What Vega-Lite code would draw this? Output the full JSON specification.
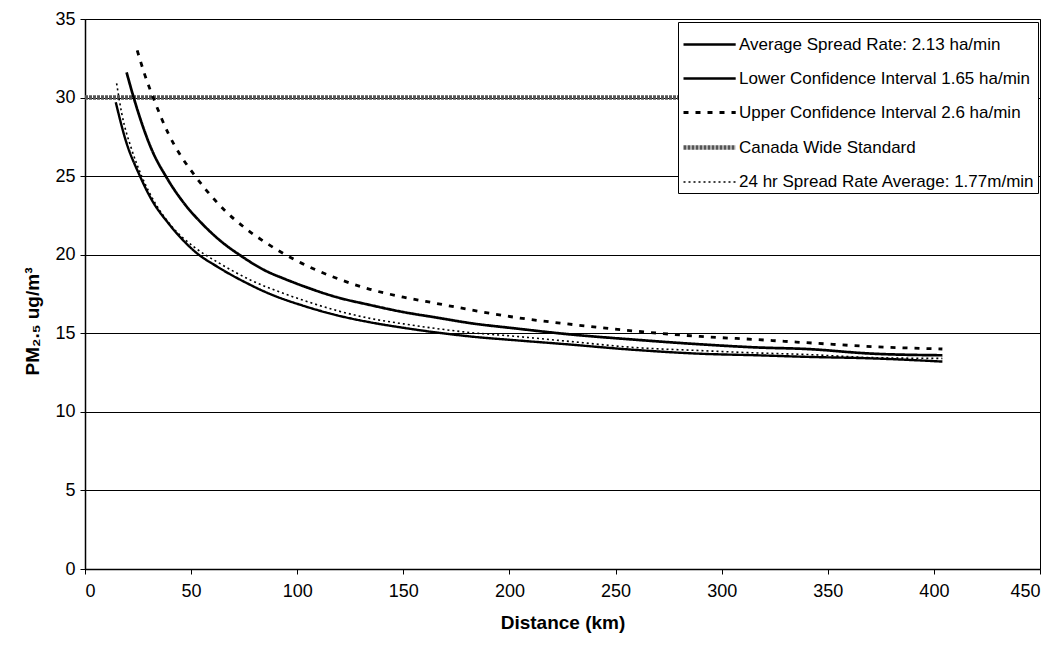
{
  "$schema": "https://vega.github.io/schema/vega-lite/v6.json",
  "width": 955,
  "height": 550,
  "autosize": {"type": "none"},
  "padding": {"left": 85, "top": 19, "right": 22, "bottom": 91},
  "background": "white",
  "config": {
    "font": "Liberation Sans",
    "view": {"stroke": "black", "strokeWidth": 1},
    "axis": {
      "domainColor": "black",
      "domainWidth": 1.5,
      "tickColor": "black",
      "tickSize": 5,
      "labelColor": "black",
      "labelFont": "Liberation Sans",
      "labelFontSize": 18,
      "titleColor": "black",
      "titleFont": "Liberation Sans",
      "titleFontSize": 19,
      "titleFontWeight": "bold"
    },
    "legend": {
      "orient": "none",
      "legendX": 593,
      "legendY": 3,
      "strokeColor": "black",
      "fillColor": "white",
      "padding": 3,
      "symbolType": "M-1,0H1.9",
      "symbolSize": 1296,
      "labelFont": "Liberation Sans",
      "labelFontSize": 17,
      "labelColor": "black",
      "labelOffset": 17,
      "rowPadding": 6,
      "labelLimit": 400
    }
  },
  "data": {
    "values": [
      {"series": "Canada Wide Standard", "x": 0, "y": 30},
      {"series": "Canada Wide Standard", "x": 404, "y": 30},

      {"series": "Average Spread Rate: 2.13 ha/min", "x": 19.6, "y": 31.6},
      {"series": "Average Spread Rate: 2.13 ha/min", "x": 23.6, "y": 29.7},
      {"series": "Average Spread Rate: 2.13 ha/min", "x": 31.4, "y": 26.7},
      {"series": "Average Spread Rate: 2.13 ha/min", "x": 38.5, "y": 24.9},
      {"series": "Average Spread Rate: 2.13 ha/min", "x": 47.1, "y": 23.2},
      {"series": "Average Spread Rate: 2.13 ha/min", "x": 55.0, "y": 22.0},
      {"series": "Average Spread Rate: 2.13 ha/min", "x": 62.8, "y": 21.0},
      {"series": "Average Spread Rate: 2.13 ha/min", "x": 73.8, "y": 19.9},
      {"series": "Average Spread Rate: 2.13 ha/min", "x": 84.8, "y": 19.0},
      {"series": "Average Spread Rate: 2.13 ha/min", "x": 94.3, "y": 18.45},
      {"series": "Average Spread Rate: 2.13 ha/min", "x": 102.9, "y": 18.0},
      {"series": "Average Spread Rate: 2.13 ha/min", "x": 118.6, "y": 17.3},
      {"series": "Average Spread Rate: 2.13 ha/min", "x": 134.3, "y": 16.8},
      {"series": "Average Spread Rate: 2.13 ha/min", "x": 150.0, "y": 16.35},
      {"series": "Average Spread Rate: 2.13 ha/min", "x": 165.7, "y": 16.0},
      {"series": "Average Spread Rate: 2.13 ha/min", "x": 181.4, "y": 15.65},
      {"series": "Average Spread Rate: 2.13 ha/min", "x": 203.4, "y": 15.3},
      {"series": "Average Spread Rate: 2.13 ha/min", "x": 227.0, "y": 14.95},
      {"series": "Average Spread Rate: 2.13 ha/min", "x": 258.4, "y": 14.6},
      {"series": "Average Spread Rate: 2.13 ha/min", "x": 289.8, "y": 14.3},
      {"series": "Average Spread Rate: 2.13 ha/min", "x": 316.5, "y": 14.1},
      {"series": "Average Spread Rate: 2.13 ha/min", "x": 340.1, "y": 14.0},
      {"series": "Average Spread Rate: 2.13 ha/min", "x": 371.5, "y": 13.7},
      {"series": "Average Spread Rate: 2.13 ha/min", "x": 404.0, "y": 13.6},

      {"series": "Lower Confidence Interval 1.65 ha/min", "x": 14.5, "y": 29.7},
      {"series": "Lower Confidence Interval 1.65 ha/min", "x": 18.9, "y": 27.4},
      {"series": "Lower Confidence Interval 1.65 ha/min", "x": 25.9, "y": 25.0},
      {"series": "Lower Confidence Interval 1.65 ha/min", "x": 31.4, "y": 23.5},
      {"series": "Lower Confidence Interval 1.65 ha/min", "x": 39.3, "y": 22.0},
      {"series": "Lower Confidence Interval 1.65 ha/min", "x": 47.1, "y": 20.8},
      {"series": "Lower Confidence Interval 1.65 ha/min", "x": 51.8, "y": 20.2},
      {"series": "Lower Confidence Interval 1.65 ha/min", "x": 62.8, "y": 19.2},
      {"series": "Lower Confidence Interval 1.65 ha/min", "x": 75.4, "y": 18.25},
      {"series": "Lower Confidence Interval 1.65 ha/min", "x": 87.2, "y": 17.5},
      {"series": "Lower Confidence Interval 1.65 ha/min", "x": 102.9, "y": 16.75},
      {"series": "Lower Confidence Interval 1.65 ha/min", "x": 118.6, "y": 16.15},
      {"series": "Lower Confidence Interval 1.65 ha/min", "x": 134.3, "y": 15.7},
      {"series": "Lower Confidence Interval 1.65 ha/min", "x": 150.0, "y": 15.35},
      {"series": "Lower Confidence Interval 1.65 ha/min", "x": 165.7, "y": 15.05},
      {"series": "Lower Confidence Interval 1.65 ha/min", "x": 181.4, "y": 14.8},
      {"series": "Lower Confidence Interval 1.65 ha/min", "x": 203.4, "y": 14.55},
      {"series": "Lower Confidence Interval 1.65 ha/min", "x": 227.0, "y": 14.3},
      {"series": "Lower Confidence Interval 1.65 ha/min", "x": 258.4, "y": 13.95},
      {"series": "Lower Confidence Interval 1.65 ha/min", "x": 289.8, "y": 13.7},
      {"series": "Lower Confidence Interval 1.65 ha/min", "x": 316.5, "y": 13.6},
      {"series": "Lower Confidence Interval 1.65 ha/min", "x": 340.1, "y": 13.5},
      {"series": "Lower Confidence Interval 1.65 ha/min", "x": 371.5, "y": 13.4},
      {"series": "Lower Confidence Interval 1.65 ha/min", "x": 404.0, "y": 13.2},

      {"series": "Upper Confidence Interval 2.6 ha/min", "x": 24.6, "y": 33.0},
      {"series": "Upper Confidence Interval 2.6 ha/min", "x": 28.3, "y": 31.4},
      {"series": "Upper Confidence Interval 2.6 ha/min", "x": 33.0, "y": 29.7},
      {"series": "Upper Confidence Interval 2.6 ha/min", "x": 39.3, "y": 27.7},
      {"series": "Upper Confidence Interval 2.6 ha/min", "x": 45.6, "y": 26.2},
      {"series": "Upper Confidence Interval 2.6 ha/min", "x": 50.3, "y": 25.3},
      {"series": "Upper Confidence Interval 2.6 ha/min", "x": 56.6, "y": 24.2},
      {"series": "Upper Confidence Interval 2.6 ha/min", "x": 66.0, "y": 22.8},
      {"series": "Upper Confidence Interval 2.6 ha/min", "x": 75.4, "y": 21.7},
      {"series": "Upper Confidence Interval 2.6 ha/min", "x": 84.8, "y": 20.8},
      {"series": "Upper Confidence Interval 2.6 ha/min", "x": 100.0, "y": 19.6},
      {"series": "Upper Confidence Interval 2.6 ha/min", "x": 118.6, "y": 18.5},
      {"series": "Upper Confidence Interval 2.6 ha/min", "x": 134.3, "y": 17.8},
      {"series": "Upper Confidence Interval 2.6 ha/min", "x": 150.0, "y": 17.3},
      {"series": "Upper Confidence Interval 2.6 ha/min", "x": 165.7, "y": 16.9},
      {"series": "Upper Confidence Interval 2.6 ha/min", "x": 181.4, "y": 16.5},
      {"series": "Upper Confidence Interval 2.6 ha/min", "x": 203.4, "y": 16.0},
      {"series": "Upper Confidence Interval 2.6 ha/min", "x": 227.0, "y": 15.6},
      {"series": "Upper Confidence Interval 2.6 ha/min", "x": 258.4, "y": 15.15},
      {"series": "Upper Confidence Interval 2.6 ha/min", "x": 289.8, "y": 14.8},
      {"series": "Upper Confidence Interval 2.6 ha/min", "x": 316.5, "y": 14.6},
      {"series": "Upper Confidence Interval 2.6 ha/min", "x": 340.1, "y": 14.4},
      {"series": "Upper Confidence Interval 2.6 ha/min", "x": 371.5, "y": 14.15},
      {"series": "Upper Confidence Interval 2.6 ha/min", "x": 404.0, "y": 14.0},

      {"series": "24 hr Spread Rate Average: 1.77m/min", "x": 14.9, "y": 30.9},
      {"series": "24 hr Spread Rate Average: 1.77m/min", "x": 17.3, "y": 29.0},
      {"series": "24 hr Spread Rate Average: 1.77m/min", "x": 22.0, "y": 26.7},
      {"series": "24 hr Spread Rate Average: 1.77m/min", "x": 26.7, "y": 25.0},
      {"series": "24 hr Spread Rate Average: 1.77m/min", "x": 33.0, "y": 23.3},
      {"series": "24 hr Spread Rate Average: 1.77m/min", "x": 40.9, "y": 21.8},
      {"series": "24 hr Spread Rate Average: 1.77m/min", "x": 51.8, "y": 20.45},
      {"series": "24 hr Spread Rate Average: 1.77m/min", "x": 62.8, "y": 19.5},
      {"series": "24 hr Spread Rate Average: 1.77m/min", "x": 78.6, "y": 18.35},
      {"series": "24 hr Spread Rate Average: 1.77m/min", "x": 94.3, "y": 17.5},
      {"series": "24 hr Spread Rate Average: 1.77m/min", "x": 102.9, "y": 17.1},
      {"series": "24 hr Spread Rate Average: 1.77m/min", "x": 118.6, "y": 16.45},
      {"series": "24 hr Spread Rate Average: 1.77m/min", "x": 134.3, "y": 15.95},
      {"series": "24 hr Spread Rate Average: 1.77m/min", "x": 150.0, "y": 15.6},
      {"series": "24 hr Spread Rate Average: 1.77m/min", "x": 165.7, "y": 15.3},
      {"series": "24 hr Spread Rate Average: 1.77m/min", "x": 181.4, "y": 15.05},
      {"series": "24 hr Spread Rate Average: 1.77m/min", "x": 203.4, "y": 14.8},
      {"series": "24 hr Spread Rate Average: 1.77m/min", "x": 227.0, "y": 14.5},
      {"series": "24 hr Spread Rate Average: 1.77m/min", "x": 258.4, "y": 14.1},
      {"series": "24 hr Spread Rate Average: 1.77m/min", "x": 289.8, "y": 13.9},
      {"series": "24 hr Spread Rate Average: 1.77m/min", "x": 316.5, "y": 13.75},
      {"series": "24 hr Spread Rate Average: 1.77m/min", "x": 340.1, "y": 13.65},
      {"series": "24 hr Spread Rate Average: 1.77m/min", "x": 371.5, "y": 13.45},
      {"series": "24 hr Spread Rate Average: 1.77m/min", "x": 404.0, "y": 13.4}
    ]
  },
  "mark": {"type": "line", "interpolate": "monotone", "clip": true},
  "encoding": {
    "x": {
      "field": "x",
      "type": "quantitative",
      "scale": {"domain": [0, 450], "nice": false},
      "axis": {
        "title": "Distance (km)",
        "values": [0, 50, 100, 150, 200, 250, 300, 350, 400, 450],
        "grid": false,
        "labelPadding": 8,
        "titlePadding": 13
      }
    },
    "y": {
      "field": "y",
      "type": "quantitative",
      "scale": {"domain": [0, 35], "nice": false},
      "axis": {
        "title": "PM₂.₅ ug/m³",
        "values": [0, 5, 10, 15, 20, 25, 30, 35],
        "grid": true,
        "gridColor": "black",
        "gridWidth": 1,
        "gridOpacity": 1,
        "labelPadding": 5,
        "titlePadding": 12,
        "titleY": 302
      }
    },
    "color": {
      "field": "series",
      "type": "nominal",
      "title": null,
      "scale": {
        "domain": [
          "Average Spread Rate: 2.13 ha/min",
          "Lower Confidence Interval 1.65 ha/min",
          "Upper Confidence Interval 2.6 ha/min",
          "Canada Wide Standard",
          "24 hr Spread Rate Average: 1.77m/min"
        ],
        "range": ["#000000", "#000000", "#000000", "#555555", "#000000"]
      }
    },
    "strokeDash": {
      "field": "series",
      "type": "nominal",
      "title": null,
      "scale": {
        "domain": [
          "Average Spread Rate: 2.13 ha/min",
          "Lower Confidence Interval 1.65 ha/min",
          "Upper Confidence Interval 2.6 ha/min",
          "Canada Wide Standard",
          "24 hr Spread Rate Average: 1.77m/min"
        ],
        "range": [[1, 0], [1, 0], [5, 7], [3, 1], [2, 3]]
      }
    },
    "strokeWidth": {
      "field": "series",
      "type": "nominal",
      "title": null,
      "scale": {
        "type": "ordinal",
        "domain": [
          "Average Spread Rate: 2.13 ha/min",
          "Lower Confidence Interval 1.65 ha/min",
          "Upper Confidence Interval 2.6 ha/min",
          "Canada Wide Standard",
          "24 hr Spread Rate Average: 1.77m/min"
        ],
        "range": [2.7, 2.4, 2.8, 4.5, 1.6]
      }
    },
    "order": {"field": "x", "type": "quantitative"}
  }
}
